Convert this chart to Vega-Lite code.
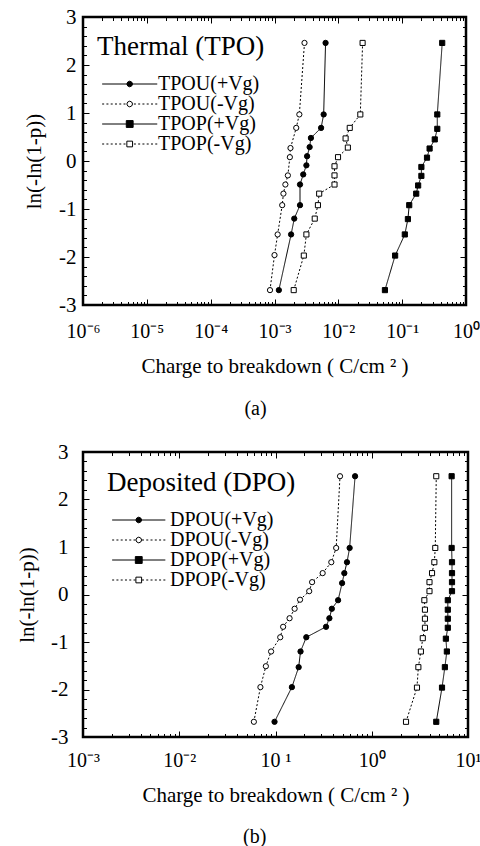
{
"$schema": "https://vega.github.io/schema/vega-lite/v6.json",
"background": "white",
"padding": {"left": 15, "top": 4, "right": 0, "bottom": 0},
"spacing": 18,
"resolve": {"scale": {"shape": "independent", "fill": "independent", "size": "independent", "stroke": "independent"}, "legend": {"shape": "independent", "fill": "independent", "stroke": "independent"}},
"datasets": {
"tpo": [
{"s":"TPOU(+Vg)","q":0.00631,"w":2.46},{"s":"TPOU(+Vg)","q":0.00589,"w":0.97},{"s":"TPOU(+Vg)","q":0.00537,"w":0.69},{"s":"TPOU(+Vg)","q":0.00372,"w":0.48},{"s":"TPOU(+Vg)","q":0.00355,"w":0.29},{"s":"TPOU(+Vg)","q":0.00324,"w":0.10},{"s":"TPOU(+Vg)","q":0.00316,"w":-0.09},{"s":"TPOU(+Vg)","q":0.00282,"w":-0.28},{"s":"TPOU(+Vg)","q":0.00251,"w":-0.49},{"s":"TPOU(+Vg)","q":0.00251,"w":-0.92},{"s":"TPOU(+Vg)","q":0.00204,"w":-1.20},{"s":"TPOU(+Vg)","q":0.00182,"w":-1.53},{"s":"TPOU(+Vg)","q":0.00117,"w":-2.69},
{"s":"TPOU(-Vg)","q":0.00295,"w":2.46},{"s":"TPOU(-Vg)","q":0.00245,"w":0.97},{"s":"TPOU(-Vg)","q":0.00219,"w":0.69},{"s":"TPOU(-Vg)","q":0.00178,"w":0.27},{"s":"TPOU(-Vg)","q":0.00174,"w":0.08},{"s":"TPOU(-Vg)","q":0.00162,"w":-0.30},{"s":"TPOU(-Vg)","q":0.00148,"w":-0.49},{"s":"TPOU(-Vg)","q":0.00138,"w":-0.68},{"s":"TPOU(-Vg)","q":0.00132,"w":-0.92},{"s":"TPOU(-Vg)","q":0.00112,"w":-1.53},{"s":"TPOU(-Vg)","q":0.00100,"w":-1.96},{"s":"TPOU(-Vg)","q":0.00085,"w":-2.69},
{"s":"TPOP(+Vg)","q":0.424,"w":2.46},{"s":"TPOP(+Vg)","q":0.355,"w":0.97},{"s":"TPOP(+Vg)","q":0.355,"w":0.67},{"s":"TPOP(+Vg)","q":0.324,"w":0.45},{"s":"TPOP(+Vg)","q":0.269,"w":0.26},{"s":"TPOP(+Vg)","q":0.245,"w":0.07},{"s":"TPOP(+Vg)","q":0.200,"w":-0.125},{"s":"TPOP(+Vg)","q":0.200,"w":-0.31},{"s":"TPOP(+Vg)","q":0.178,"w":-0.51},{"s":"TPOP(+Vg)","q":0.166,"w":-0.68},{"s":"TPOP(+Vg)","q":0.129,"w":-0.92},{"s":"TPOP(+Vg)","q":0.123,"w":-1.21},{"s":"TPOP(+Vg)","q":0.110,"w":-1.53},{"s":"TPOP(+Vg)","q":0.0776,"w":-1.97},{"s":"TPOP(+Vg)","q":0.0537,"w":-2.69},
{"s":"TPOP(-Vg)","q":0.0240,"w":2.46},{"s":"TPOP(-Vg)","q":0.0221,"w":0.97},{"s":"TPOP(-Vg)","q":0.0151,"w":0.69},{"s":"TPOP(-Vg)","q":0.0130,"w":0.47},{"s":"TPOP(-Vg)","q":0.0141,"w":0.28},{"s":"TPOP(-Vg)","q":0.00989,"w":0.08},{"s":"TPOP(-Vg)","q":0.00871,"w":-0.11},{"s":"TPOP(-Vg)","q":0.00871,"w":-0.30},{"s":"TPOP(-Vg)","q":0.00871,"w":-0.49},{"s":"TPOP(-Vg)","q":0.00501,"w":-0.68},{"s":"TPOP(-Vg)","q":0.00479,"w":-0.92},{"s":"TPOP(-Vg)","q":0.00427,"w":-1.20},{"s":"TPOP(-Vg)","q":0.00316,"w":-1.53},{"s":"TPOP(-Vg)","q":0.00288,"w":-1.97},{"s":"TPOP(-Vg)","q":0.00200,"w":-2.69}
],
"dpo": [
{"s":"DPOU(+Vg)","q":0.671,"w":2.49},{"s":"DPOU(+Vg)","q":0.589,"w":0.98},{"s":"DPOU(+Vg)","q":0.553,"w":0.68},{"s":"DPOU(+Vg)","q":0.519,"w":0.45},{"s":"DPOU(+Vg)","q":0.492,"w":0.24},{"s":"DPOU(+Vg)","q":0.447,"w":-0.12},{"s":"DPOU(+Vg)","q":0.385,"w":-0.30},{"s":"DPOU(+Vg)","q":0.363,"w":-0.50},{"s":"DPOU(+Vg)","q":0.335,"w":-0.68},{"s":"DPOU(+Vg)","q":0.209,"w":-0.90},{"s":"DPOU(+Vg)","q":0.182,"w":-1.20},{"s":"DPOU(+Vg)","q":0.174,"w":-1.53},{"s":"DPOU(+Vg)","q":0.148,"w":-1.95},{"s":"DPOU(+Vg)","q":0.0977,"w":-2.68},
{"s":"DPOU(-Vg)","q":0.468,"w":2.49},{"s":"DPOU(-Vg)","q":0.427,"w":0.98},{"s":"DPOU(-Vg)","q":0.380,"w":0.68},{"s":"DPOU(-Vg)","q":0.309,"w":0.45},{"s":"DPOU(-Vg)","q":0.240,"w":0.26},{"s":"DPOU(-Vg)","q":0.224,"w":0.07},{"s":"DPOU(-Vg)","q":0.180,"w":-0.11},{"s":"DPOU(-Vg)","q":0.158,"w":-0.30},{"s":"DPOU(-Vg)","q":0.140,"w":-0.50},{"s":"DPOU(-Vg)","q":0.120,"w":-0.68},{"s":"DPOU(-Vg)","q":0.112,"w":-0.90},{"s":"DPOU(-Vg)","q":0.0900,"w":-1.20},{"s":"DPOU(-Vg)","q":0.0794,"w":-1.51},{"s":"DPOU(-Vg)","q":0.0697,"w":-1.95},{"s":"DPOU(-Vg)","q":0.0596,"w":-2.68},
{"s":"DPOP(+Vg)","q":6.76,"w":2.49},{"s":"DPOP(+Vg)","q":6.76,"w":0.98},{"s":"DPOP(+Vg)","q":6.82,"w":0.68},{"s":"DPOP(+Vg)","q":6.82,"w":0.45},{"s":"DPOP(+Vg)","q":6.82,"w":0.26},{"s":"DPOP(+Vg)","q":6.82,"w":0.07},{"s":"DPOP(+Vg)","q":6.17,"w":-0.12},{"s":"DPOP(+Vg)","q":6.17,"w":-0.32},{"s":"DPOP(+Vg)","q":6.17,"w":-0.51},{"s":"DPOP(+Vg)","q":6.17,"w":-0.70},{"s":"DPOP(+Vg)","q":5.89,"w":-0.93},{"s":"DPOP(+Vg)","q":6.03,"w":-1.20},{"s":"DPOP(+Vg)","q":5.75,"w":-1.53},{"s":"DPOP(+Vg)","q":5.37,"w":-1.96},{"s":"DPOP(+Vg)","q":4.68,"w":-2.68},
{"s":"DPOP(-Vg)","q":4.68,"w":2.49},{"s":"DPOP(-Vg)","q":4.57,"w":0.98},{"s":"DPOP(-Vg)","q":4.47,"w":0.68},{"s":"DPOP(-Vg)","q":4.23,"w":0.45},{"s":"DPOP(-Vg)","q":3.98,"w":0.26},{"s":"DPOP(-Vg)","q":3.98,"w":0.07},{"s":"DPOP(-Vg)","q":3.52,"w":-0.12},{"s":"DPOP(-Vg)","q":3.57,"w":-0.32},{"s":"DPOP(-Vg)","q":3.57,"w":-0.51},{"s":"DPOP(-Vg)","q":3.57,"w":-0.70},{"s":"DPOP(-Vg)","q":3.39,"w":-0.92},{"s":"DPOP(-Vg)","q":3.24,"w":-1.20},{"s":"DPOP(-Vg)","q":3.05,"w":-1.53},{"s":"DPOP(-Vg)","q":2.95,"w":-1.96},{"s":"DPOP(-Vg)","q":2.27,"w":-2.68}
]
},
"vconcat": [
{
"width": 383, "height": 288,
"title": {"text": "(a)", "orient": "bottom", "anchor": "middle", "frame": "bounds", "fontSize": 20, "font": "Liberation Serif, Times New Roman, serif", "fontWeight": "normal", "color": "black", "offset": 23, "dx": 4},
"data": {"name": "tpo"},
"resolve": {"axis": {"x": "independent", "y": "independent"}, "scale": {"shape": "independent", "fill": "independent", "size": "independent", "stroke": "independent"}, "legend": {"shape": "independent", "fill": "independent", "stroke": "independent"}},
"layer": [
{
"mark": {"type": "line", "color": "black", "strokeWidth": 1},
"encoding": {
"x": {"field": "q", "type": "quantitative", "scale": {"type": "log", "domain": [1e-6, 1]}, "axis": {"orient": "bottom", "values": [1e-6,1e-5,1e-4,1e-3,1e-2,1e-1,1], "ticks": false, "labelFlush": false, "labelOverlap": false, "labelExpr": "['10⁻⁶','10⁻⁵','10⁻⁴','10⁻³','10⁻²','10⁻¹','10⁰'][round(log(datum.value)/LN10)+6]", "labelFontSize": 20, "labelPadding": 16, "title": "Charge to breakdown ( C/cm ² )", "titleFontSize": 21, "titlePadding": 14}},
"y": {"field": "w", "type": "quantitative", "scale": {"domain": [-3, 3]}, "axis": {"orient": "left", "values": [-3,-2,-1,0,1,2,3], "ticks": false, "labelExpr": "'' + datum.value", "labelFontSize": 21, "labelPadding": 7, "title": "ln(-ln(1-p))", "titleFontSize": 21, "titlePadding": 14}},
"detail": {"field": "s", "type": "nominal"},
"strokeDash": {"condition": {"test": "datum.s === 'TPOU(-Vg)' || datum.s === 'TPOP(-Vg)'", "value": [2,2]}, "value": [1,0]},
"order": {"field": "w", "type": "quantitative"}
}
},
{
"mark": {"type": "point", "filled": false, "stroke": "black", "strokeWidth": 1, "opacity": 1},
"encoding": {
"x": {"field": "q", "type": "quantitative", "scale": {"type": "log", "domain": [1e-6, 1]}, "axis": {"orient": "bottom", "values": [1e-6,1e-5,1e-4,1e-3,1e-2,1e-1,1], "labels": false, "title": null, "tickSize": -6}},
"y": {"field": "w", "type": "quantitative", "scale": {"domain": [-3, 3]}, "axis": {"orient": "left", "values": [-3,-2,-1,0,1,2,3], "labels": false, "title": null, "tickSize": -6}},
"fill": {"field": "s", "type": "nominal", "scale": {"domain": ["TPOU(+Vg)","TPOU(-Vg)","TPOP(+Vg)","TPOP(-Vg)"], "range": ["black","white","black","white"]}, "legend": null},
"size": {"field": "s", "type": "nominal", "scale": {"domain": ["TPOU(+Vg)","TPOU(-Vg)","TPOP(+Vg)","TPOP(-Vg)"], "range": [28,26,50,30]}, "legend": null},
"shape": {"field": "s", "type": "nominal", "scale": {"domain": ["TPOU(+Vg)","TPOU(-Vg)","TPOP(+Vg)","TPOP(-Vg)"], "range": ["circle","circle","square","square"]}, "legend": null}
}
},
{
"transform": [{"filter": "datum.w > 99"}],
"mark": {"type": "point", "filled": false, "strokeWidth": 1, "opacity": 1},
"encoding": {
"x": {"field": "q", "type": "quantitative", "scale": {"type": "log", "domain": [1e-6, 1]}, "axis": null},
"y": {"field": "w", "type": "quantitative", "scale": {"domain": [-3, 3]}, "axis": null},
"shape": {"field": "s", "type": "nominal", "scale": {"domain": ["TPOU(+Vg)","TPOU(-Vg)","TPOP(+Vg)","TPOP(-Vg)"], "range": [
"M-0.51,0L5.29,0M2.09,0L2.18,-0.21L2.39,-0.3L2.6,-0.21L2.69,0L2.6,0.21L2.39,0.3L2.18,0.21Z",
"M-0.51,0L-0.3,0M-0.06,0L0.15,0M0.39,0L0.6,0M0.84,0L1.05,0M1.29,0L1.5,0M1.74,0L1.95,0M2.83,0L3.04,0M3.28,0L3.49,0M3.73,0L3.94,0M4.18,0L4.39,0M4.63,0L4.84,0M5.08,0L5.29,0M2.09,0L2.18,-0.21L2.39,-0.3L2.6,-0.21L2.69,0L2.6,0.21L2.39,0.3L2.18,0.21Z",
"M-0.51,0L5.29,0M2.03,-0.36L2.75,-0.36L2.75,0.36L2.03,0.36Z",
"M-0.51,0L-0.3,0M-0.06,0L0.15,0M0.39,0L0.6,0M0.84,0L1.05,0M1.29,0L1.5,0M1.74,0L1.95,0M2.83,0L3.04,0M3.28,0L3.49,0M3.73,0L3.94,0M4.18,0L4.39,0M4.63,0L4.84,0M5.08,0L5.29,0M2.09,-0.3L2.69,-0.3L2.69,0.3L2.09,0.3Z"]},
"legend": {"title": "Thermal (TPO)", "orient": "none", "legendX": 14, "legendY": 17, "titleFontSize": 27, "titleFontWeight": "normal", "titleColor": "black", "titlePadding": 13, "titleLimit": 400, "labelFontSize": 20, "labelColor": "black", "labelLimit": 400, "labelOffset": 41, "rowPadding": -5.5, "symbolSize": 361, "symbolStrokeWidth": 1, "symbolStrokeColor": "black", "symbolOpacity": 1}},
"fill": {"field": "s", "type": "nominal", "scale": {"domain": ["TPOU(+Vg)","TPOU(-Vg)","TPOP(+Vg)","TPOP(-Vg)"], "range": ["black","white","black","white"]},
"legend": {"title": "Thermal (TPO)", "orient": "none", "legendX": 14, "legendY": 17, "titleFontSize": 27, "titleFontWeight": "normal", "titleColor": "black", "titlePadding": 13, "titleLimit": 400, "labelFontSize": 20, "labelColor": "black", "labelLimit": 400, "labelOffset": 41, "rowPadding": -5.5, "symbolSize": 361, "symbolStrokeWidth": 1, "symbolStrokeColor": "black", "symbolOpacity": 1}},
"stroke": {"field": "s", "type": "nominal", "scale": {"domain": ["TPOU(+Vg)","TPOU(-Vg)","TPOP(+Vg)","TPOP(-Vg)"], "range": ["black","black","black","black"]},
"legend": {"title": "Thermal (TPO)", "orient": "none", "legendX": 14, "legendY": 17, "titleFontSize": 27, "titleFontWeight": "normal", "titleColor": "black", "titlePadding": 13, "titleLimit": 400, "labelFontSize": 20, "labelColor": "black", "labelLimit": 400, "labelOffset": 41, "rowPadding": -5.5, "symbolSize": 361, "symbolStrokeWidth": 1, "symbolStrokeColor": "black", "symbolOpacity": 1}}
}
},
{
"transform": [{"filter": "datum.w > 99"}],
"mark": {"type": "point"},
"encoding": {
"x": {"field": "q", "type": "quantitative", "scale": {"type": "log", "domain": [1e-6, 1]}, "axis": {"orient": "top", "values": [1e-6,1e-5,1e-4,1e-3,1e-2,1e-1,1], "labels": false, "title": null, "tickSize": -6}},
"y": {"field": "w", "type": "quantitative", "scale": {"domain": [-3, 3]}, "axis": {"orient": "right", "values": [-3,-2,-1,0,1,2,3], "labels": false, "title": null, "tickSize": -6}}
}
},
{
"transform": [{"filter": "datum.w > 99"}],
"mark": {"type": "point"},
"encoding": {
"x": {"field": "q", "type": "quantitative", "scale": {"type": "log", "domain": [1e-6, 1]}, "axis": {"orient": "bottom", "values": [2e-6,3e-6,4e-6,5e-6,6e-6,7e-6,8e-6,9e-6,2e-5,3e-5,4e-5,5e-5,6e-5,7e-5,8e-5,9e-5,2e-4,3e-4,4e-4,5e-4,6e-4,7e-4,8e-4,9e-4,0.002,0.003,0.004,0.005,0.006,0.007,0.008,0.009,0.02,0.03,0.04,0.05,0.06,0.07,0.08,0.09,0.2,0.3,0.4,0.5,0.6,0.7,0.8,0.9], "labels": false, "title": null, "tickSize": -3.5}},
"y": {"field": "w", "type": "quantitative", "scale": {"domain": [-3, 3]}, "axis": {"orient": "left", "values": [-2.8,-2.6,-2.4,-2.2,-1.8,-1.6,-1.4,-1.2,-0.8,-0.6,-0.4,-0.2,0.2,0.4,0.6,0.8,1.2,1.4,1.6,1.8,2.2,2.4,2.6,2.8], "labels": false, "title": null, "tickSize": -3.5}}
}
},
{
"transform": [{"filter": "datum.w > 99"}],
"mark": {"type": "point"},
"encoding": {
"x": {"field": "q", "type": "quantitative", "scale": {"type": "log", "domain": [1e-6, 1]}, "axis": {"orient": "top", "values": [2e-6,3e-6,4e-6,5e-6,6e-6,7e-6,8e-6,9e-6,2e-5,3e-5,4e-5,5e-5,6e-5,7e-5,8e-5,9e-5,2e-4,3e-4,4e-4,5e-4,6e-4,7e-4,8e-4,9e-4,0.002,0.003,0.004,0.005,0.006,0.007,0.008,0.009,0.02,0.03,0.04,0.05,0.06,0.07,0.08,0.09,0.2,0.3,0.4,0.5,0.6,0.7,0.8,0.9], "labels": false, "title": null, "tickSize": -3.5}},
"y": {"field": "w", "type": "quantitative", "scale": {"domain": [-3, 3]}, "axis": {"orient": "right", "values": [-2.8,-2.6,-2.4,-2.2,-1.8,-1.6,-1.4,-1.2,-0.8,-0.6,-0.4,-0.2,0.2,0.4,0.6,0.8,1.2,1.4,1.6,1.8,2.2,2.4,2.6,2.8], "labels": false, "title": null, "tickSize": -3.5}}
}
}
]
},
{
"width": 385, "height": 285,
"title": {"text": "(b)", "orient": "bottom", "anchor": "middle", "frame": "bounds", "fontSize": 20, "font": "Liberation Serif, Times New Roman, serif", "fontWeight": "normal", "color": "black", "offset": 22, "dx": 6},
"data": {"name": "dpo"},
"resolve": {"axis": {"x": "independent", "y": "independent"}, "scale": {"shape": "independent", "fill": "independent", "size": "independent", "stroke": "independent"}, "legend": {"shape": "independent", "fill": "independent", "stroke": "independent"}},
"layer": [
{
"mark": {"type": "line", "color": "black", "strokeWidth": 1},
"encoding": {
"x": {"field": "q", "type": "quantitative", "scale": {"type": "log", "domain": [0.001, 10]}, "axis": {"orient": "bottom", "values": [0.001,0.01,0.1,1,10], "ticks": false, "labelFlush": false, "labelOverlap": false, "labelExpr": "['10⁻³','10⁻²','10 ¹','10⁰','10¹'][round(log(datum.value)/LN10)+3]", "labelFontSize": 20, "labelPadding": 13, "title": "Charge to breakdown ( C/cm ² )", "titleFontSize": 21, "titlePadding": 14}},
"y": {"field": "w", "type": "quantitative", "scale": {"domain": [-3, 3]}, "axis": {"orient": "left", "values": [-3,-2,-1,0,1,2,3], "ticks": false, "labelExpr": "'' + datum.value", "labelFontSize": 21, "labelPadding": 15, "title": "ln(-ln(1-p))", "titleFontSize": 21, "titlePadding": 13}},
"detail": {"field": "s", "type": "nominal"},
"strokeDash": {"condition": {"test": "datum.s === 'DPOU(-Vg)' || datum.s === 'DPOP(-Vg)'", "value": [2,2]}, "value": [1,0]},
"order": {"field": "w", "type": "quantitative"}
}
},
{
"mark": {"type": "point", "filled": false, "stroke": "black", "strokeWidth": 1, "opacity": 1},
"encoding": {
"x": {"field": "q", "type": "quantitative", "scale": {"type": "log", "domain": [0.001, 10]}, "axis": {"orient": "bottom", "values": [0.001,0.01,0.1,1,10], "labels": false, "title": null, "tickSize": -6}},
"y": {"field": "w", "type": "quantitative", "scale": {"domain": [-3, 3]}, "axis": {"orient": "left", "values": [-3,-2,-1,0,1,2,3], "labels": false, "title": null, "tickSize": -6}},
"fill": {"field": "s", "type": "nominal", "scale": {"domain": ["DPOU(+Vg)","DPOU(-Vg)","DPOP(+Vg)","DPOP(-Vg)"], "range": ["black","white","black","white"]}, "legend": null},
"size": {"field": "s", "type": "nominal", "scale": {"domain": ["DPOU(+Vg)","DPOU(-Vg)","DPOP(+Vg)","DPOP(-Vg)"], "range": [28,26,45,32]}, "legend": null},
"shape": {"field": "s", "type": "nominal", "scale": {"domain": ["DPOU(+Vg)","DPOU(-Vg)","DPOP(+Vg)","DPOP(-Vg)"], "range": ["circle","circle","square","square"]}, "legend": null}
}
},
{
"transform": [{"filter": "datum.w > 99"}],
"mark": {"type": "point", "filled": false, "strokeWidth": 1, "opacity": 1},
"encoding": {
"x": {"field": "q", "type": "quantitative", "scale": {"type": "log", "domain": [0.001, 10]}, "axis": null},
"y": {"field": "w", "type": "quantitative", "scale": {"domain": [-3, 3]}, "axis": null},
"shape": {"field": "s", "type": "nominal", "scale": {"domain": ["DPOU(+Vg)","DPOU(-Vg)","DPOP(+Vg)","DPOP(-Vg)"], "range": [
"M-0.51,0L5.09,0M1.99,0L2.08,-0.21L2.29,-0.3L2.5,-0.21L2.59,0L2.5,0.21L2.29,0.3L2.08,0.21Z",
"M-0.51,0L-0.3,0M-0.06,0L0.15,0M0.39,0L0.6,0M0.84,0L1.05,0M1.29,0L1.5,0M1.74,0L1.95,0M2.63,0L2.84,0M3.08,0L3.29,0M3.53,0L3.74,0M3.98,0L4.19,0M4.43,0L4.64,0M4.88,0L5.09,0M1.99,0L2.08,-0.21L2.29,-0.3L2.5,-0.21L2.59,0L2.5,0.21L2.29,0.3L2.08,0.21Z",
"M-0.51,0L5.09,0M1.93,-0.36L2.65,-0.36L2.65,0.36L1.93,0.36Z",
"M-0.51,0L-0.3,0M-0.06,0L0.15,0M0.39,0L0.6,0M0.84,0L1.05,0M1.29,0L1.5,0M1.74,0L1.95,0M2.63,0L2.84,0M3.08,0L3.29,0M3.53,0L3.74,0M3.98,0L4.19,0M4.43,0L4.64,0M4.88,0L5.09,0M1.99,-0.3L2.59,-0.3L2.59,0.3L1.99,0.3Z"]},
"legend": {"title": "Deposited (DPO)", "orient": "none", "legendX": 24, "legendY": 18, "titleFontSize": 27, "titleFontWeight": "normal", "titleColor": "black", "titlePadding": 13, "titleLimit": 400, "labelFontSize": 20, "labelColor": "black", "labelLimit": 400, "labelOffset": 43, "rowPadding": -6.5, "symbolSize": 361, "symbolStrokeWidth": 1, "symbolStrokeColor": "black", "symbolOpacity": 1}},
"fill": {"field": "s", "type": "nominal", "scale": {"domain": ["DPOU(+Vg)","DPOU(-Vg)","DPOP(+Vg)","DPOP(-Vg)"], "range": ["black","white","black","white"]},
"legend": {"title": "Deposited (DPO)", "orient": "none", "legendX": 24, "legendY": 18, "titleFontSize": 27, "titleFontWeight": "normal", "titleColor": "black", "titlePadding": 13, "titleLimit": 400, "labelFontSize": 20, "labelColor": "black", "labelLimit": 400, "labelOffset": 43, "rowPadding": -6.5, "symbolSize": 361, "symbolStrokeWidth": 1, "symbolStrokeColor": "black", "symbolOpacity": 1}},
"stroke": {"field": "s", "type": "nominal", "scale": {"domain": ["DPOU(+Vg)","DPOU(-Vg)","DPOP(+Vg)","DPOP(-Vg)"], "range": ["black","black","black","black"]},
"legend": {"title": "Deposited (DPO)", "orient": "none", "legendX": 24, "legendY": 18, "titleFontSize": 27, "titleFontWeight": "normal", "titleColor": "black", "titlePadding": 13, "titleLimit": 400, "labelFontSize": 20, "labelColor": "black", "labelLimit": 400, "labelOffset": 43, "rowPadding": -6.5, "symbolSize": 361, "symbolStrokeWidth": 1, "symbolStrokeColor": "black", "symbolOpacity": 1}}
}
},
{
"transform": [{"filter": "datum.w > 99"}],
"mark": {"type": "point"},
"encoding": {
"x": {"field": "q", "type": "quantitative", "scale": {"type": "log", "domain": [0.001, 10]}, "axis": {"orient": "top", "values": [0.001,0.01,0.1,1,10], "labels": false, "title": null, "tickSize": -6}},
"y": {"field": "w", "type": "quantitative", "scale": {"domain": [-3, 3]}, "axis": {"orient": "right", "values": [-3,-2,-1,0,1,2,3], "labels": false, "title": null, "tickSize": -6}}
}
},
{
"transform": [{"filter": "datum.w > 99"}],
"mark": {"type": "point"},
"encoding": {
"x": {"field": "q", "type": "quantitative", "scale": {"type": "log", "domain": [0.001, 10]}, "axis": {"orient": "bottom", "values": [0.002,0.003,0.004,0.005,0.006,0.007,0.008,0.009,0.02,0.03,0.04,0.05,0.06,0.07,0.08,0.09,0.2,0.3,0.4,0.5,0.6,0.7,0.8,0.9,2,3,4,5,6,7,8,9], "labels": false, "title": null, "tickSize": -3.5}},
"y": {"field": "w", "type": "quantitative", "scale": {"domain": [-3, 3]}, "axis": {"orient": "left", "values": [-2.8,-2.6,-2.4,-2.2,-1.8,-1.6,-1.4,-1.2,-0.8,-0.6,-0.4,-0.2,0.2,0.4,0.6,0.8,1.2,1.4,1.6,1.8,2.2,2.4,2.6,2.8], "labels": false, "title": null, "tickSize": -3.5}}
}
},
{
"transform": [{"filter": "datum.w > 99"}],
"mark": {"type": "point"},
"encoding": {
"x": {"field": "q", "type": "quantitative", "scale": {"type": "log", "domain": [0.001, 10]}, "axis": {"orient": "top", "values": [0.002,0.003,0.004,0.005,0.006,0.007,0.008,0.009,0.02,0.03,0.04,0.05,0.06,0.07,0.08,0.09,0.2,0.3,0.4,0.5,0.6,0.7,0.8,0.9,2,3,4,5,6,7,8,9], "labels": false, "title": null, "tickSize": -3.5}},
"y": {"field": "w", "type": "quantitative", "scale": {"domain": [-3, 3]}, "axis": {"orient": "right", "values": [-2.8,-2.6,-2.4,-2.2,-1.8,-1.6,-1.4,-1.2,-0.8,-0.6,-0.4,-0.2,0.2,0.4,0.6,0.8,1.2,1.4,1.6,1.8,2.2,2.4,2.6,2.8], "labels": false, "title": null, "tickSize": -3.5}}
}
}
]
}
],
"config": {
"font": "Liberation Serif, Times New Roman, serif",
"view": {"stroke": "black", "strokeWidth": 2.5},
"axis": {"grid": false, "domain": false, "tickColor": "black", "tickWidth": 1, "labelColor": "black", "titleColor": "black", "labelFont": "Liberation Serif, Times New Roman, serif", "titleFont": "Liberation Serif, Times New Roman, serif", "titleFontWeight": "normal"},
"legend": {"padding": 0, "labelFont": "Liberation Serif, Times New Roman, serif", "titleFont": "Liberation Serif, Times New Roman, serif"}
}
}
